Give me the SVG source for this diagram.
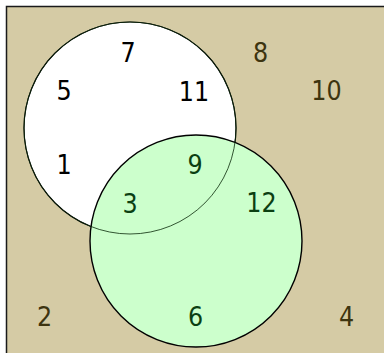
<svg xmlns="http://www.w3.org/2000/svg" width="384" height="353" viewBox="0 0 384 353">
<style>
.n{font-family:"DejaVu Sans Condensed","DejaVu Sans",sans-serif;font-stretch:condensed;font-size:26.5px;text-anchor:middle}
.a{fill:#000}
.b{fill:#0b3f12}
.u{fill:#3d3410}
</style>
<rect id="universe" x="6.5" y="6.5" width="390" height="360" fill="#d5cba5" stroke="#1a1a1a" stroke-width="1.5"/>
<g id="setA"><circle cx="130" cy="128" r="106" fill="#ffffff" stroke="#000" stroke-width="1.2"/></g>
<g id="setB"><circle cx="196" cy="241" r="106" fill="#ccffcc" stroke="#000" stroke-width="1.4"/></g>
<g id="setA-outline"><circle cx="130" cy="128" r="106" fill="none" stroke="#0a2a0a" stroke-width="0.8"/></g>
<g id="labels" class="n">
<text class="a" x="128" y="61.5">7</text>
<text class="a" x="64" y="100">5</text>
<text class="a" x="194" y="100.5">11</text>
<text class="a" x="64" y="174">1</text>
<text class="b" x="195" y="174">9</text>
<text class="b" x="130" y="212.5">3</text>
<text class="b" x="261.5" y="212">12</text>
<text class="b" x="195.5" y="326">6</text>
<text class="u" x="260.5" y="62">8</text>
<text class="u" x="326.5" y="100">10</text>
<text class="u" x="44.5" y="326">2</text>
<text class="u" x="346.5" y="326">4</text>
</g>
</svg>
